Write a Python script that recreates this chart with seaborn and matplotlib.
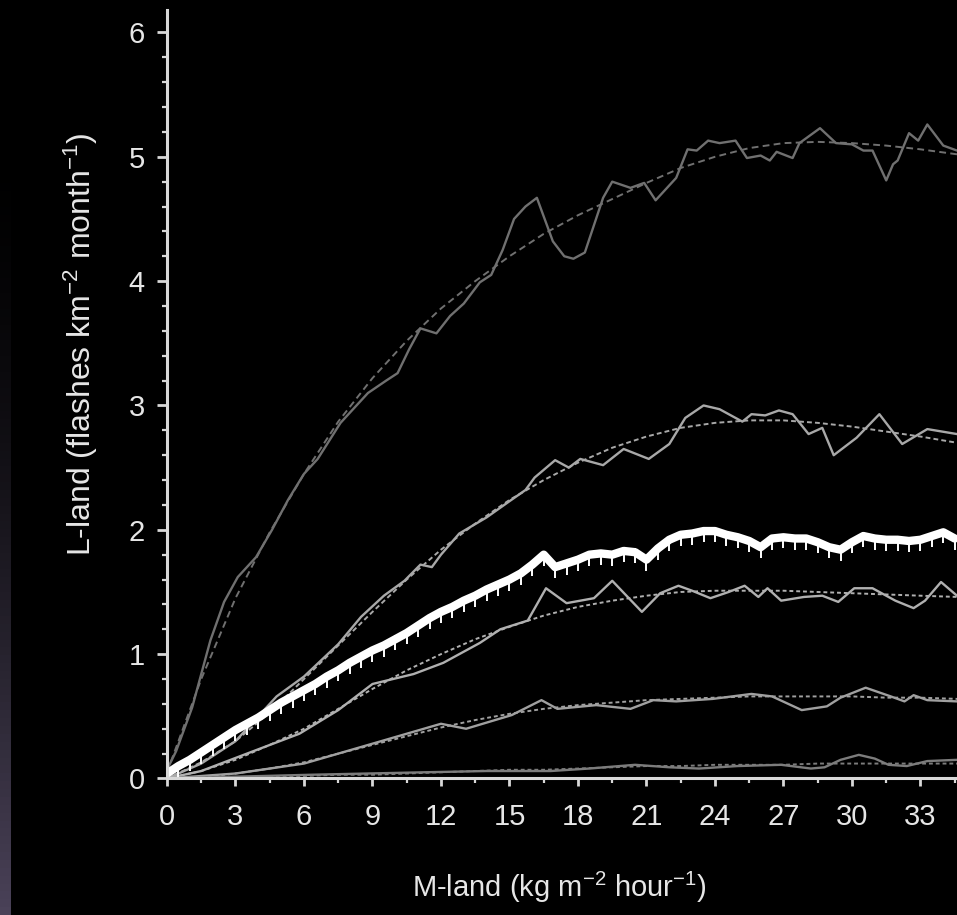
import numpy as np
import matplotlib
matplotlib.use("Agg")
import matplotlib.pyplot as plt
import seaborn as sns

# ---- data ----
# shared x grid of the smooth (dashed) fits
FIT_X = [0, 1.5, 3, 4.5, 6, 7.5, 9, 10.5, 12, 13.5, 15, 16.5, 18, 19.5,
         21, 22.5, 24, 25.5, 27, 28.5, 30, 31.5, 33, 34.6]

# curve 1 (top)
C1_X = [0, 0.4, 1.1, 1.9, 2.5, 3.1, 3.9, 4.6, 5.3, 6.0, 6.6, 7.6, 8.8, 9.6, 10.1,
        10.6, 11.1, 11.8, 12.4, 13.0, 13.7, 14.2, 14.7, 15.2, 15.7, 16.2, 16.9,
        17.4, 17.8, 18.3, 19.1, 19.5, 20.3, 20.9, 21.4, 22.3, 22.8, 23.2, 23.7,
        24.2, 24.9, 25.4, 26.0, 26.4, 26.7, 27.4, 27.7, 28.6, 29.3, 30.0, 30.5,
        30.9, 31.5, 31.8, 32.0, 32.5, 32.9, 33.3, 34.0, 34.6]
C1_Y = [0.07, 0.22, 0.57, 1.11, 1.42, 1.62, 1.78, 2.0, 2.24, 2.45, 2.57, 2.86, 3.1,
        3.2, 3.26, 3.45, 3.62, 3.58, 3.72, 3.82, 3.99, 4.05, 4.25, 4.5, 4.6, 4.67,
        4.32, 4.2, 4.18, 4.23, 4.67, 4.8, 4.75, 4.79, 4.65, 4.83, 5.06, 5.05, 5.13,
        5.11, 5.13, 4.99, 5.01, 4.97, 5.04, 4.99, 5.11, 5.23, 5.11, 5.1, 5.05, 5.05,
        4.81, 4.94, 4.97, 5.19, 5.13, 5.26, 5.09, 5.05]
FIT1 = [0.05, 0.8, 1.45, 1.98, 2.45, 2.87, 3.22, 3.52, 3.78, 4.0, 4.2, 4.38, 4.53,
        4.66, 4.79, 4.91, 5.0, 5.07, 5.11, 5.12, 5.11, 5.09, 5.06, 5.02]

# curve 2
C2_X = [0, 1.5, 3, 4.8, 6, 7.5, 8.5, 9.5, 10.4, 11.1, 11.6, 12.0, 12.8, 14.0, 15.0,
        15.7, 16.1, 17.0, 17.6, 18.1, 19.1, 20.0, 21.1, 22.0, 22.7, 23.5, 24.2,
        25.2, 25.6, 26.2, 26.8, 27.4, 28.1, 28.7, 29.2, 30.2, 31.2, 32.2, 33.3, 34.6]
C2_Y = [0.0, 0.12, 0.3, 0.66, 0.82, 1.08, 1.3, 1.47, 1.59, 1.72, 1.7, 1.8, 1.97,
        2.1, 2.23, 2.32, 2.42, 2.56, 2.5, 2.57, 2.52, 2.65, 2.57, 2.69, 2.9, 3.0,
        2.97, 2.87, 2.93, 2.92, 2.96, 2.93, 2.77, 2.82, 2.6, 2.74, 2.93, 2.69, 2.81,
        2.77]
FIT2 = [0.0, 0.13, 0.3, 0.53, 0.8, 1.07, 1.34, 1.6, 1.84, 2.05, 2.24, 2.4, 2.54,
        2.66, 2.75, 2.82, 2.86, 2.88, 2.88, 2.86, 2.83, 2.79, 2.75, 2.7]

# thick white mean curve (0.5 spacing) with its error bars
MEAN_X = np.arange(0, 34.6, 0.5)
MEAN_Y = [0.04, 0.10, 0.15, 0.21, 0.27, 0.33, 0.39, 0.44, 0.49, 0.55, 0.61, 0.66,
          0.71, 0.76, 0.82, 0.87, 0.93, 0.98, 1.03, 1.07, 1.12, 1.17, 1.23, 1.29,
          1.34, 1.38, 1.43, 1.47, 1.52, 1.56, 1.60, 1.65, 1.72, 1.80, 1.70, 1.73,
          1.76, 1.80, 1.81, 1.80, 1.83, 1.82, 1.76, 1.85, 1.92, 1.96, 1.97, 1.99,
          1.99, 1.96, 1.94, 1.91, 1.86, 1.93, 1.94, 1.93, 1.93, 1.90, 1.86, 1.84,
          1.90, 1.95, 1.93, 1.92, 1.92, 1.91, 1.92, 1.95, 1.98, 1.93]
ERR_LO = 0.09
ERR_HI = 0.03

# curve 4
C4_X = [0, 1.5, 3.5, 5.8, 7.5, 9.0, 10.8, 12.1, 13.7, 14.6, 15.8, 16.6, 17.5, 18.7,
        19.5, 20.8, 21.6, 22.4, 23.0, 23.8, 24.6, 25.3, 25.9, 26.3, 26.9, 27.9,
        28.7, 29.4, 30.1, 30.9, 31.9, 32.7, 33.2, 33.9, 34.6]
C4_Y = [0.0, 0.06, 0.2, 0.36, 0.55, 0.76, 0.84, 0.93, 1.09, 1.2, 1.27, 1.53, 1.41,
        1.45, 1.59, 1.34, 1.49, 1.55, 1.51, 1.45, 1.5, 1.55, 1.46, 1.53, 1.43, 1.46,
        1.47, 1.42, 1.53, 1.53, 1.43, 1.37, 1.43, 1.58, 1.47]
FIT4 = [0.0, 0.06, 0.15, 0.27, 0.4, 0.56, 0.72, 0.87, 1.0, 1.12, 1.22, 1.31, 1.38,
        1.43, 1.47, 1.5, 1.51, 1.51, 1.51, 1.5, 1.49, 1.48, 1.47, 1.46]

# curve 5
C5_X = [0, 3.0, 6.0, 9.0, 12.0, 13.1, 15.1, 16.4, 17.1, 18.8, 20.3, 21.3, 22.3,
        23.9, 25.6, 26.5, 27.8, 28.9, 29.5, 30.6, 31.7, 32.3, 32.7, 33.3, 34.6]
C5_Y = [0.0, 0.04, 0.12, 0.28, 0.44, 0.4, 0.51, 0.63, 0.56, 0.59, 0.56, 0.63, 0.62,
        0.64, 0.68, 0.66, 0.55, 0.58, 0.65, 0.73, 0.66, 0.62, 0.67, 0.63, 0.62]
FIT5 = [0.0, 0.01, 0.04, 0.08, 0.13, 0.2, 0.27, 0.34, 0.41, 0.47, 0.52, 0.56, 0.59,
        0.61, 0.63, 0.64, 0.65, 0.66, 0.66, 0.66, 0.66, 0.65, 0.65, 0.64]

# curve 6 (bottom)
C6_X = [0, 6.3, 11.3, 14.0, 16.8, 18.5, 20.5, 22.0, 23.3, 25.0, 26.9, 28.2, 28.8,
        29.5, 30.3, 31.0, 31.6, 32.4, 33.3, 34.6]
C6_Y = [0.0, 0.03, 0.05, 0.06, 0.06, 0.08, 0.11, 0.09, 0.08, 0.1, 0.11, 0.08, 0.09,
        0.15, 0.19, 0.16, 0.11, 0.1, 0.14, 0.15]
FIT6 = [0.0, 0.0, 0.01, 0.01, 0.02, 0.03, 0.03, 0.04, 0.05, 0.06, 0.07, 0.07, 0.08,
        0.09, 0.1, 0.1, 0.11, 0.11, 0.11, 0.12, 0.12, 0.12, 0.12, 0.12]

X_TICKS = list(range(0, 34, 3))
Y_TICKS = list(range(0, 7))

# ---- style ----
sns.set_theme(style="dark")
plt.rcParams["font.family"] = ["Liberation Sans", "DejaVu Sans"]
plt.rcParams["mathtext.fontset"] = "custom"
plt.rcParams["mathtext.rm"] = "Liberation Sans"
plt.rcParams["mathtext.it"] = "Liberation Sans:italic"
plt.rcParams["mathtext.bf"] = "Liberation Sans:bold"

AX_COL = "#d8d8d8"
TXT_COL = "#e6e6e6"

fig = plt.figure(figsize=(9.57, 9.15), dpi=100, facecolor="black")
ax = fig.add_axes([0.1745, 0.1492, 0.8255, 0.8398])
ax.set_facecolor("black")

# faint purple strip at the left edge of the photo (brighter towards the bottom)
strip = fig.add_axes([0.0, 0.0, 0.011, 0.86])
grad = np.linspace(0, 1, 100).reshape(-1, 1) ** 1.6
strip.imshow(grad, aspect="auto", cmap=sns.blend_palette(["#000000", "#4a4258"], as_cmap=True))
strip.axis("off")

curves = [
    (C1_X, C1_Y, FIT1, "#707070", (3.5, 2.2)),
    (C2_X, C2_Y, FIT2, "#a8a8a8", (2.5, 1.6)),
    (C4_X, C4_Y, FIT4, "#b0b0b0", (2.0, 1.5)),
    (C5_X, C5_Y, FIT5, "#a0a0a0", (2.0, 1.5)),
    (C6_X, C6_Y, FIT6, "#7c7c7c", (2.0, 1.5)),
]
for cx, cy, fit, col, dash in curves:
    sns.lineplot(x=cx, y=cy, ax=ax, color=col, lw=1.7, estimator=None, sort=False)
    sns.lineplot(x=FIT_X, y=fit, ax=ax, color=col, lw=1.4, estimator=None,
                 sort=False, dashes=False, linestyle=(0, dash))

mean_y = np.array(MEAN_Y)
ax.vlines(MEAN_X, mean_y - ERR_LO, mean_y + ERR_HI, color="white", lw=1.4)
sns.lineplot(x=MEAN_X, y=MEAN_Y, ax=ax, color="white", lw=6, estimator=None, sort=False)

ax.set_xlim(0, 34.6)
ax.set_ylim(0, 6.18)
ax.set_xticks(X_TICKS)
ax.set_xticks(np.arange(1.5, 34.6, 3), minor=True)
ax.set_yticks(Y_TICKS)
ax.set_yticks(np.arange(0, 6.1, 0.2), minor=True)
ax.grid(False)

for side in ["top", "right"]:
    ax.spines[side].set_visible(False)
for side in ["left", "bottom"]:
    ax.spines[side].set_visible(True)
    ax.spines[side].set_color(AX_COL)
    ax.spines[side].set_linewidth(2.2)

ax.tick_params(which="both", direction="out", color=AX_COL, labelcolor=TXT_COL,
               labelsize=21, left=True, bottom=True)
ax.tick_params(axis="x", which="major", length=6, width=2, pad=12)
ax.tick_params(axis="y", which="major", length=7, width=2, pad=9)
ax.tick_params(which="minor", length=3.5, width=1.6)

ax.set_xlabel(r"M-land (kg m$^{-2}$ hour$^{-1}$)", fontsize=21, color=TXT_COL)
ax.set_ylabel(r"L-land (flashes km$^{-2}$ month$^{-1}$)", fontsize=23, color=TXT_COL)
ax.xaxis.set_label_coords(0.497, -0.119)
ax.yaxis.set_label_coords(-0.085, 0.565)

fig.savefig("out.png", dpi=100, facecolor="black")
